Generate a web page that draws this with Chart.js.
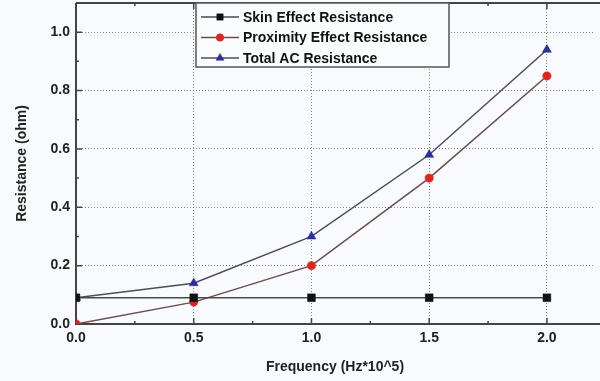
<!DOCTYPE html>
<html>
<head>
<meta charset="utf-8">
<script src="https://cdn.jsdelivr.net/npm/chart.js@4"></script>
<style>
  html, body { margin: 0; padding: 0; background: #f8fafd; overflow: hidden; }
  #wrap { width: 600px; height: 381px; overflow: hidden; }
  #chart { margin-top: -3px; display: block; }
</style>
</head>
<body>
<div id="wrap"><canvas id="chart" width="600" height="384"></canvas></div>
<script>
// data
const frequency = [0.0, 0.5, 1.0, 1.5, 2.0];
const skinEffect = [0.09, 0.09, 0.09, 0.09, 0.09];
const proximityEffect = [0.0, 0.075, 0.2, 0.5, 0.85];
const totalAC = [0.09, 0.14, 0.30, 0.58, 0.94];
const xTickLabels = ['0.0', '0.5', '1.0', '1.5', '2.0'];
const yTickLabels = ['0.0', '0.2', '0.4', '0.6', '0.8', '1.0'];

const toPoints = (ys) => frequency.map((x, i) => ({ x: x, y: ys[i] }));
const FONT = '"Liberation Sans", Arial, sans-serif';

const series = [
  { label: 'Skin Effect Resistance', data: skinEffect, line: '#4a4a4a', fill: '#111111', shape: 'rect', size: 5.5, legSize: 4.5 },
  { label: 'Proximity Effect Resistance', data: proximityEffect, line: '#6b4c4c', fill: '#e02420', shape: 'circle', size: 4.2, legSize: 3.8 },
  { label: 'Total AC Resistance', data: totalAC, line: '#4c4c5e', fill: '#2a2f9c', shape: 'triangle', size: 5.2, legSize: 4.6 }
];

// frame, inward ticks and the boxed legend
const framePlugin = {
  id: 'frame',
  beforeDraw(chart) {
    const c = chart.ctx;
    c.save();
    c.fillStyle = '#f8fafd';
    c.fillRect(0, 0, chart.width, chart.height);
    c.restore();
  },
  beforeDatasetsDraw(chart) {
    const c = chart.ctx;
    const a = chart.chartArea;
    const xs = chart.scales.x, ys = chart.scales.y;
    c.save();
    c.strokeStyle = '#444';
    c.lineWidth = 2;
    c.beginPath();
    c.moveTo(a.left, a.top); c.lineTo(chart.width, a.top);
    c.moveTo(a.left, a.top); c.lineTo(a.left, a.bottom);
    c.lineTo(chart.width, a.bottom);
    c.stroke();
    c.lineWidth = 1.5;
    c.beginPath();
    xs.ticks.forEach(t => {
      const px = xs.getPixelForValue(t.value);
      const len = Math.round(t.value * 4) % 2 === 0 ? 6 : 3;
      c.moveTo(px, a.bottom); c.lineTo(px, a.bottom - len);
      c.moveTo(px, a.top); c.lineTo(px, a.top + len);
    });
    ys.ticks.forEach(t => {
      const py = ys.getPixelForValue(t.value);
      const len = Math.round(t.value * 10) % 2 === 0 ? 6 : 3;
      c.moveTo(a.left, py); c.lineTo(a.left + len, py);
    });
    c.stroke();
    c.restore();
  },
  afterDraw(chart) {
    const c = chart.ctx;
    const bx = 196, by = 6, bw = 253, bh = 64;
    c.save();
    c.fillStyle = '#fbfcfe';
    c.fillRect(bx, by, bw, bh);
    c.strokeStyle = '#555';
    c.lineWidth = 1.5;
    c.strokeRect(bx, by, bw, bh);
    c.font = 'bold 14px ' + FONT;
    c.textBaseline = 'middle';
    series.forEach((s, i) => {
      const y = by + 14 + i * 20.5;
      c.strokeStyle = s.line;
      c.lineWidth = 1.5;
      c.beginPath(); c.moveTo(bx + 5, y); c.lineTo(bx + 43, y); c.stroke();
      c.fillStyle = s.fill;
      c.strokeStyle = s.fill;
      c.lineWidth = 0.5;
      Chart.helpers.drawPoint(c, {
        pointStyle: s.shape, radius: s.legSize, borderWidth: 0.5, rotation: 0
      }, bx + 24, y);
      c.fillStyle = '#111';
      c.fillText(s.label, bx + 47, y + 1);
    });
    c.restore();
  }
};

new Chart(document.getElementById('chart'), {
  type: 'line',
  data: {
    datasets: series.map(s => ({
      label: s.label,
      data: toPoints(s.data),
      borderColor: s.line,
      borderWidth: 1.5,
      pointStyle: s.shape,
      pointRadius: s.size,
      pointBackgroundColor: s.fill,
      pointBorderColor: s.fill,
      pointBorderWidth: 0.5,
      tension: 0
    }))
  },
  options: {
    responsive: false,
    animation: false,
    layout: { padding: { top: 0, right: 4, left: 0, bottom: 0 } },
    plugins: { legend: { display: false }, tooltip: { enabled: false } },
    scales: {
      x: {
        type: 'linear',
        min: 0, max: 2.2,
        afterFit(scale) { scale.height = 57; scale.paddingLeft = 0; scale.paddingRight = 0; },
        ticks: {
          stepSize: 0.25,
          includeBounds: false,
          padding: 6,
          maxRotation: 0,
          autoSkip: false,
          color: '#222',
          font: { family: FONT, size: 14, weight: 'bold' },
          callback(v) {
            const k = Math.round(v * 4);
            return k % 2 === 0 ? xTickLabels[k / 2] : '';
          }
        },
        grid: {
          drawTicks: false,
          lineWidth: 1,
          color(ctx) {
            const k = Math.round(ctx.tick.value * 4);
            return (k % 2 === 0 && k > 0) ? 'rgba(90,90,90,0.75)' : 'rgba(0,0,0,0)';
          }
        },
        border: { display: false, dash: [1, 2] },
        title: {
          display: true,
          text: 'Frequency (Hz*10^5)',
          color: '#222',
          font: { family: FONT, size: 14, weight: 'bold' },
          padding: { top: 0, bottom: 5 }
        }
      },
      y: {
        min: 0, max: 1.1,
        afterFit(scale) { scale.width = 76; scale.paddingTop = 0; scale.paddingBottom = 0; },
        ticks: {
          stepSize: 0.1,
          includeBounds: false,
          padding: 6,
          autoSkip: false,
          color: '#222',
          font: { family: FONT, size: 14, weight: 'bold' },
          callback(v) {
            const k = Math.round(v * 10);
            return (k % 2 === 0 && k <= 10) ? yTickLabels[k / 2] : '';
          }
        },
        grid: {
          drawTicks: false,
          lineWidth: 1,
          color(ctx) {
            const k = Math.round(ctx.tick.value * 10);
            return (k % 2 === 0 && k > 0) ? 'rgba(90,90,90,0.75)' : 'rgba(0,0,0,0)';
          }
        },
        border: { display: false, dash: [1, 2] },
        title: {
          display: true,
          text: 'Resistance (ohm)',
          color: '#222',
          font: { family: FONT, size: 14, weight: 'bold' },
          padding: { top: 14, bottom: 0 }
        }
      }
    }
  },
  plugins: [framePlugin]
});
</script>
</body>
</html>
